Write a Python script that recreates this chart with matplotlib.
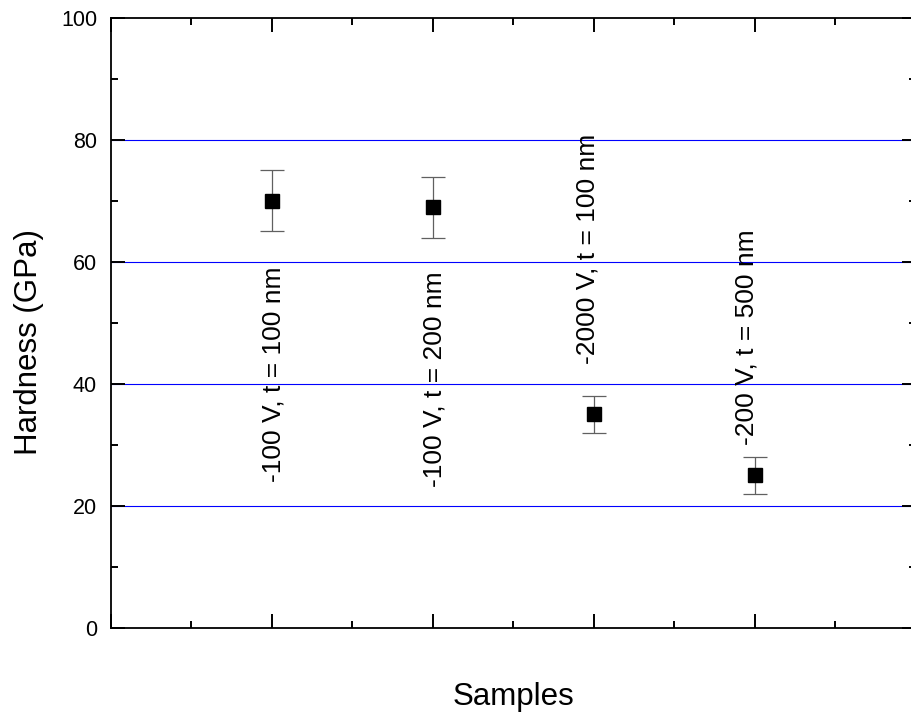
import matplotlib
matplotlib.use("Agg")
import matplotlib.pyplot as plt
from matplotlib.ticker import MultipleLocator

plt.rcParams['font.family'] = ['Liberation Sans', 'DejaVu Sans']

# data
samples = [1, 2, 3, 4]
hardness = [70, 69, 35, 25]
errors = [5, 5, 3, 3]
labels = ['-100 V, t = 100 nm', '-100 V, t = 200 nm',
          '-2000 V, t = 100 nm', '-200 V, t = 500 nm']

# where the rotated labels sit (data units)
label_x = [1.01, 2.01, 2.96, 3.95]
label_y = [41.6, 40.8, 62.1, 47.7]

fig = plt.figure(figsize=(9.11, 7.19), dpi=100)
ax = fig.add_axes([0.1218, 0.1266, 0.8836, 0.8484])

for g in [20, 40, 60, 80]:
    ax.axhline(g, color='#0000ff', lw=0.8, zorder=1)

ax.errorbar(samples, hardness, yerr=errors, fmt='s', color='black',
            ecolor='#606060', elinewidth=0.9, capsize=8.6, capthick=0.9,
            markersize=9.5, zorder=3)

for x, y, t in zip(label_x, label_y, labels):
    ax.text(x, y, t, rotation=90, ha='center', va='center', fontsize=19)

ax.set_xlim(0, 5)
ax.set_ylim(0, 100)
ax.xaxis.set_major_locator(MultipleLocator(1))
ax.xaxis.set_minor_locator(MultipleLocator(0.5))
ax.yaxis.set_major_locator(MultipleLocator(20))
ax.yaxis.set_minor_locator(MultipleLocator(10))
ax.tick_params(which='both', direction='in', top=True, right=True, width=1.4)
ax.tick_params(which='major', length=10)
ax.tick_params(which='minor', length=5)
ax.tick_params(axis='y', labelsize=15.5, pad=10)
ax.tick_params(axis='x', labelbottom=False)
for s in ax.spines.values():
    s.set_linewidth(1.3)

fig.text(28.5 / 911, 1 - 342 / 719, 'Hardness (GPa)', rotation=90,
         ha='center', va='center', fontsize=22.5)
fig.text(514 / 911, 1 - 705 / 719, 'Samples', ha='center', va='baseline',
         fontsize=22.5)

fig.savefig('out.png', dpi=100)
